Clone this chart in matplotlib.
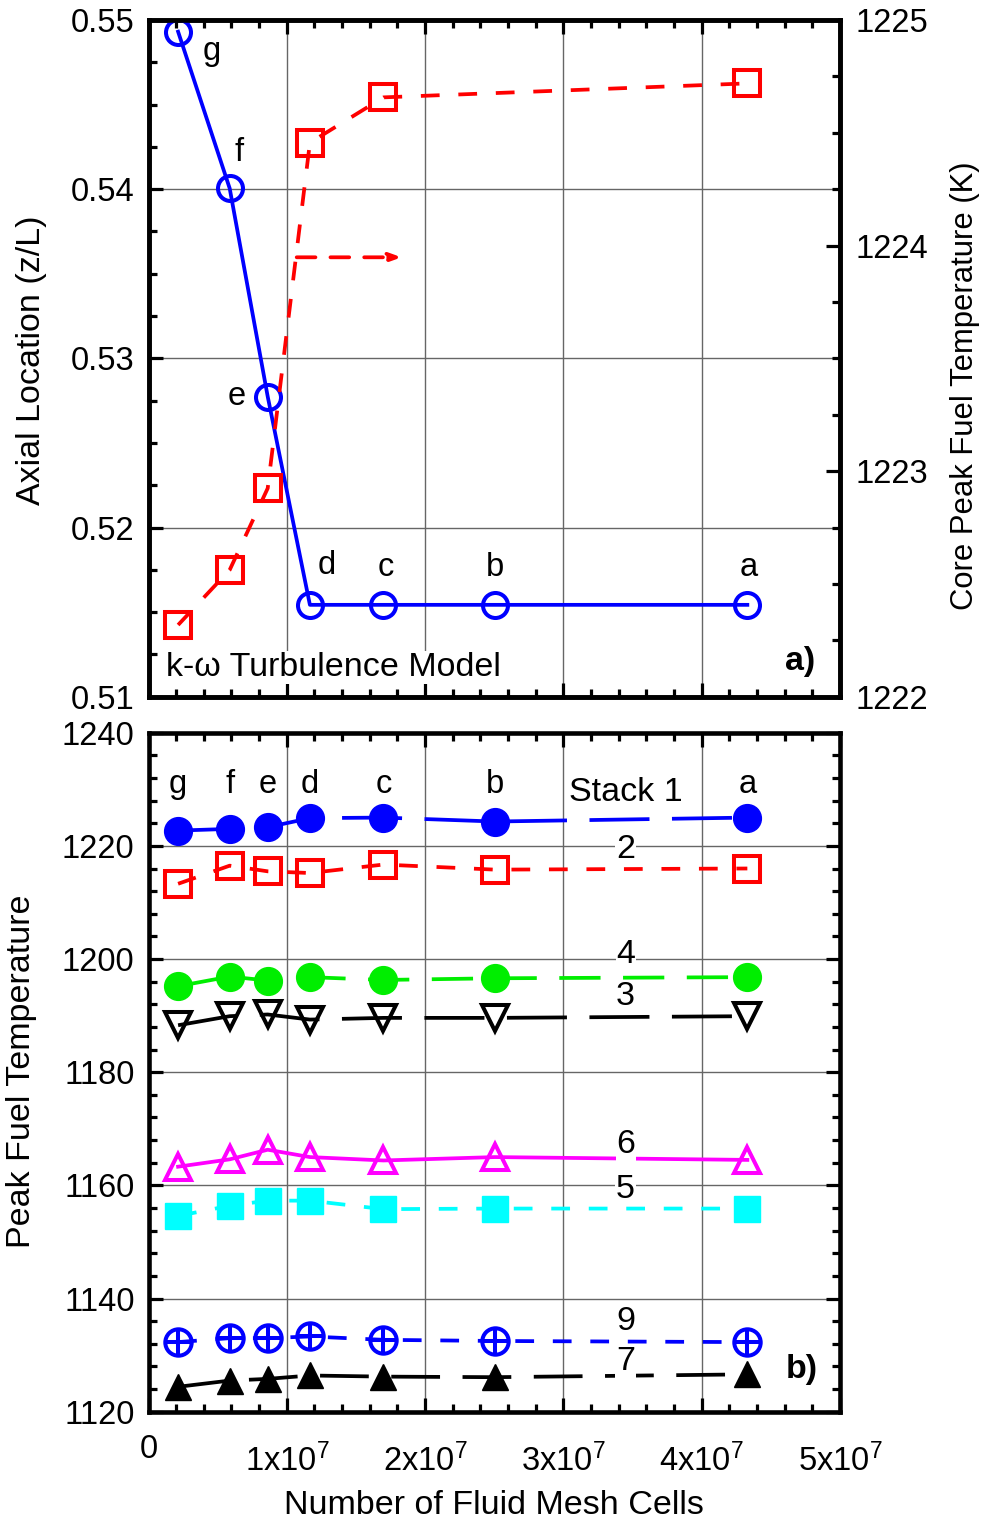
import numpy as np
import matplotlib
matplotlib.use("Agg")
import matplotlib.pyplot as plt
from matplotlib.ticker import MultipleLocator, FixedLocator
from matplotlib.transforms import ScaledTranslation

plt.rcParams['font.family'] = ['Liberation Sans', 'DejaVu Sans']
plt.rcParams['mathtext.fontset'] = 'custom'
plt.rcParams['mathtext.rm'] = 'Liberation Sans'
plt.rcParams['mathtext.it'] = 'Liberation Sans:italic'
plt.rcParams['mathtext.bf'] = 'Liberation Sans:bold'

# ---------------- data ----------------
mesh_labels = ['g', 'f', 'e', 'd', 'c', 'b', 'a']
mesh_cells = [0.214e7, 0.587e7, 0.862e7, 1.167e7, 1.699e7, 2.504e7, 4.330e7]

# panel a)
axial_location = [0.54931, 0.54005, 0.52774, 0.51543, 0.51543, 0.51543, 0.51543]
core_peak_T = [1222.318, 1222.562, 1222.924, 1224.456, 1224.657, np.nan, 1224.719]

# panel b) peak fuel temperature per stack
stack_names = ['Stack 1', '2', '4', '3', '6', '5', '9', '7']
stack1 = [1222.7, 1223.0, 1223.3, 1224.9, 1225.0, 1224.3, 1225.0]
stack2 = [1213.3, 1216.5, 1215.5, 1215.2, 1216.7, 1215.8, 1216.0]
stack4 = [1195.2, 1196.9, 1196.2, 1196.8, 1196.3, 1196.6, 1196.8]
stack3 = [1188.3, 1189.9, 1190.2, 1189.3, 1189.6, 1189.6, 1189.9]
stack6 = [1163.3, 1164.6, 1166.3, 1165.0, 1164.4, 1165.0, 1164.5]
stack5 = [1154.6, 1156.4, 1157.3, 1157.3, 1155.8, 1155.9, 1155.9]
stack9 = [1132.3, 1133.0, 1133.0, 1133.3, 1132.7, 1132.5, 1132.3]
stack7 = [1124.4, 1125.5, 1125.8, 1126.4, 1126.2, 1126.1, 1126.6]
stack_label_y = [1229.4, 1219.3, 1200.8, 1193.4, 1167.2, 1159.3, 1135.9, 1128.8]

x_ticks = [0, 1e7, 2e7, 3e7, 4e7, 5e7]
x_ticklabels = ['0', '1x10$^{7}$', '2x10$^{7}$', '3x10$^{7}$', '4x10$^{7}$', '5x10$^{7}$']

# ---------------- style ----------------
FS = 23.5
AFS = 24.5
LW = 2.7
MEW = 2.9
SPW = 3.3
BLUE, RED, GREEN, MAG, CYAN = '#0000FF', '#FF0000', '#00EE00', '#FF00FF', '#00FFFF'

fig = plt.figure(figsize=(9.9, 15.23), dpi=100)
L = 148.5 / 990
W = (840 - 148.5) / 990
ax1 = fig.add_axes([L, 1 - 696.7 / 1523, W, (696.7 - 20) / 1523])
ax3 = fig.add_axes([L, 1 - 1411.7 / 1523, W, (1411.7 - 732.7) / 1523])


def style_axis(ax):
    for s in ax.spines.values():
        s.set_linewidth(SPW)
    ax.tick_params(which='major', direction='in', length=10, width=2.3, labelsize=FS)
    ax.tick_params(which='minor', direction='in', length=6, width=2.3)


# ---------------- panel a ----------------
ax1.set_xlim(0, 5e7)
ax1.set_ylim(0.51, 0.55)
ax1.xaxis.set_major_locator(FixedLocator(x_ticks))
ax1.xaxis.set_minor_locator(MultipleLocator(0.2e7))
ax1.yaxis.set_major_locator(MultipleLocator(0.01))
ax1.yaxis.set_minor_locator(MultipleLocator(0.0025))
ax1.yaxis.set_major_formatter(matplotlib.ticker.FormatStrFormatter('%.2f'))
style_axis(ax1)
ax1.tick_params(axis='x', which='both', top=True, bottom=True, labelbottom=False)
ax1.tick_params(axis='y', which='both', left=True, right=False, pad=10)
ax1.grid(True, which='major', color='#666666', lw=1.0, zorder=0)

ax1.plot(mesh_cells, axial_location, '-', color=BLUE, lw=LW, marker='o', ms=18,
         mfc='none', mec=BLUE, mew=MEW, zorder=3)
offsets_a = [(24, -14), (7, 26), (-22, 0), (12, 28), (2, 27), (0, 27), (1, 27)]
for lab, xv, yv, off in zip(mesh_labels, mesh_cells, axial_location, offsets_a):
    ax1.annotate(lab, (xv, yv), xytext=off, textcoords='offset points',
                 ha='center', va='center', fontsize=FS, zorder=5)

ax2 = ax1.twinx()
ax2.set_ylim(1222, 1225)
ax2.yaxis.set_major_locator(MultipleLocator(1))
ax2.yaxis.set_minor_locator(MultipleLocator(0.25))
style_axis(ax2)
ax2.tick_params(axis='y', which='both', right=True, left=False, pad=11)
ct = np.array(core_peak_T)
mask = ~np.isnan(ct)
ax2.plot(np.array(mesh_cells)[mask], ct[mask], color=RED, lw=LW, dashes=(5, 5),
         marker='s', ms=19, mfc='none', mec=RED, mew=MEW, zorder=3)
ax2.annotate('', xy=(1.831e7, 1223.948), xytext=(1.0716e7, 1223.948),
             arrowprops=dict(arrowstyle='-|>,head_length=0.7,head_width=0.25',
                             color=RED, lw=LW, linestyle=(0, (5, 4)),
                             shrinkA=0, shrinkB=0))

ax1.text(0.025, 0.043, 'k-ω Turbulence Model', transform=ax1.transAxes,
         fontsize=AFS, ha='left', va='center', zorder=6,
         bbox=dict(facecolor='white', edgecolor='none', pad=1))
ax1.text(0.942, 0.052, 'a)', transform=ax1.transAxes, fontsize=AFS,
         fontweight='bold', ha='center', va='center')

# ---------------- panel b ----------------
ax3.set_xlim(0, 5e7)
ax3.set_ylim(1120, 1240)
ax3.xaxis.set_major_locator(FixedLocator(x_ticks))
ax3.set_xticklabels(x_ticklabels)
ax3.xaxis.set_minor_locator(MultipleLocator(0.2e7))
ax3.yaxis.set_major_locator(MultipleLocator(20))
ax3.yaxis.set_minor_locator(MultipleLocator(4))
style_axis(ax3)
ax3.tick_params(axis='x', which='both', top=True, bottom=True, pad=16)
ax3.tick_params(axis='y', which='both', left=True, right=True, pad=10)
ax3.grid(True, which='major', color='#666666', lw=1.0, zorder=0)

series = [
    (stack1, BLUE, (16, 6), 'o', 'full'),
    (stack2, RED, (5, 5), 's', 'none'),
    (stack4, GREEN, (11, 6), 'o', 'full'),
    (stack3, 'black', (16, 6), 'v', 'none'),
    (stack6, MAG, None, '^', 'none'),
    (stack5, CYAN, (5, 5), 's', 'full'),
    (stack9, BLUE, (5, 5), 'o', 'none'),
    (stack7, 'black', (13, 6), '^', 'full'),
]
for vals, col, dash, mk, fill in series:
    kw = dict(color=col, lw=LW, marker=mk, zorder=3)
    if dash is not None:
        kw['dashes'] = dash
    if fill == 'full':
        kw.update(mfc=col, mec=col, ms=20 if mk == 'o' else 19, mew=1)
    else:
        kw.update(mfc='none', mec=col, ms=19, mew=MEW)
    ax3.plot(mesh_cells, vals, **kw)
# plus signs for stack 9 markers
ax3.plot(mesh_cells, stack9, linestyle='none', marker='+', ms=19, mew=MEW,
         color=BLUE, zorder=4)

for lab, xv in zip(mesh_labels, mesh_cells):
    ax3.text(xv, 1230.8, lab, ha='center', va='center', fontsize=FS, zorder=5)

for name, yv in zip(stack_names, stack_label_y):
    ax3.text(3.45e7, yv, name, ha='center', va='center', fontsize=AFS, zorder=6,
             bbox=dict(facecolor='white', edgecolor='none', pad=0.5))

ax3.text(0.945, 0.062, 'b)', transform=ax3.transAxes, fontsize=AFS,
         fontweight='bold', ha='center', va='center')

# shift the exponent labels slightly lower than "0", as in the reference
for i, tk in enumerate(ax3.xaxis.get_major_ticks()):
    if i > 0:
        tk.label1.set_transform(tk.label1.get_transform() +
                                ScaledTranslation(0, -0.10, fig.dpi_scale_trans))

# ---------------- axis titles ----------------
fig.text(32 / 990, 1 - 360 / 1523, 'Axial Location (z/L)', rotation=90,
         ha='center', va='center', fontsize=AFS)
fig.text(965 / 990, 1 - 386 / 1523, 'Core Peak Fuel Temperature (K)', rotation=90,
         ha='center', va='center', fontsize=22.3)
fig.text(22 / 990, 1 - 1071 / 1523, 'Peak Fuel Temperature', rotation=90,
         ha='center', va='center', fontsize=AFS)
fig.text(494 / 990, 1 - 1505 / 1523, 'Number of Fluid Mesh Cells',
         ha='center', va='center', fontsize=AFS)

fig.savefig('out.png', dpi=100)
